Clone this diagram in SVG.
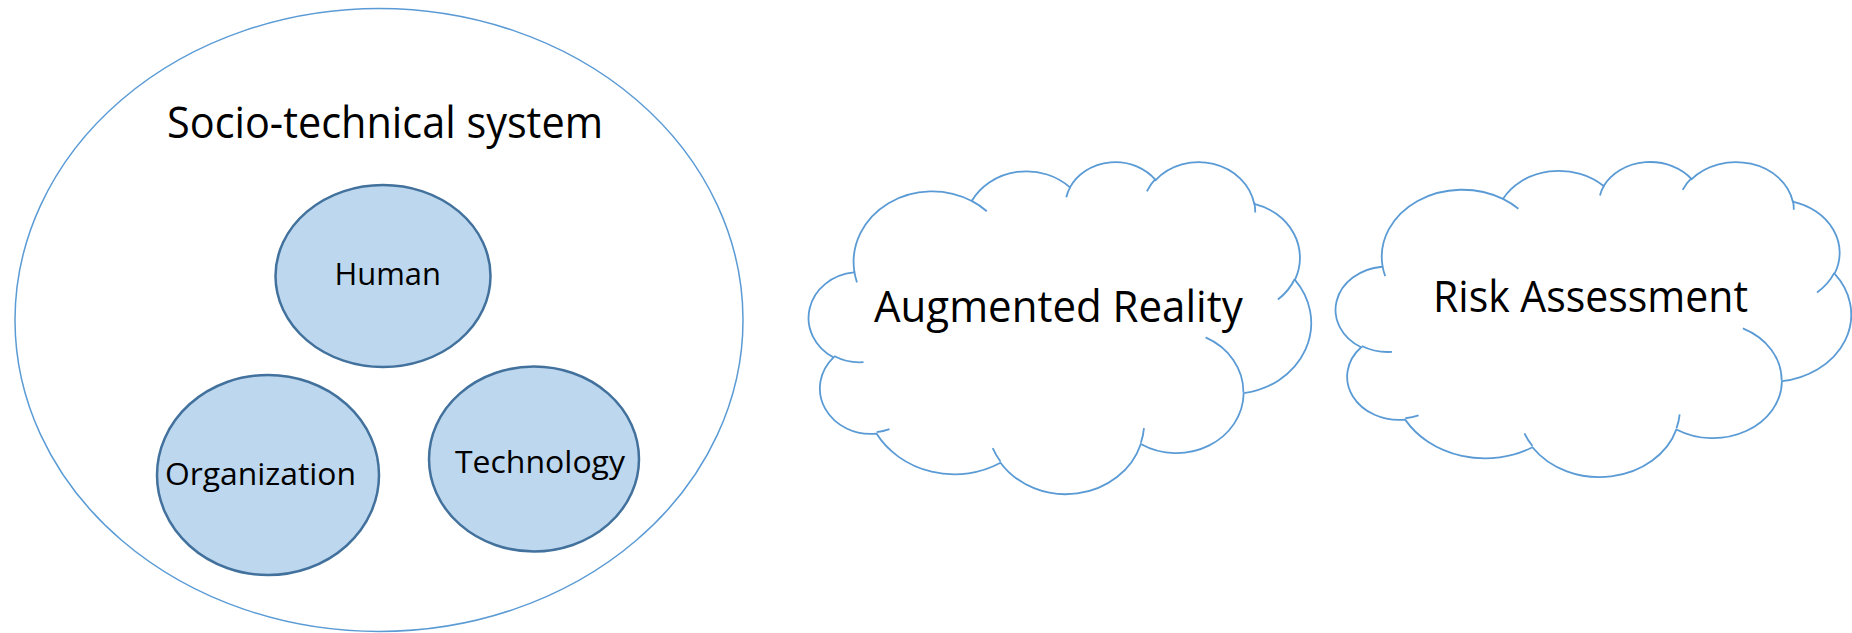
<svg xmlns="http://www.w3.org/2000/svg" xmlns:xlink="http://www.w3.org/1999/xlink" width="1852" height="633" viewBox="0 0 1852 633">
<style>
.big{fill:#ffffff;stroke:#5B9BD5;stroke-width:1.5}
.sub{fill:#BDD7EE;stroke:#41719C;stroke-width:2.5}
.cloud{fill:#ffffff;stroke:#5B9BD5;stroke-width:1.8;vector-effect:non-scaling-stroke}
.cloudin{fill:none;stroke:#5B9BD5;stroke-width:1.8;vector-effect:non-scaling-stroke}
text{font-family:"Open Sans","Noto Sans",sans-serif;fill:#000000}
.lg{font-size:43.5px}
.sm{font-size:31px}
</style>
<defs>
<path id="cloudOutline" class="cloud" d="M3900 14370 A6753 9190 0 0 1 14005 5202 A5333 7267 0 0 1 22455 3432 A4365 5945 0 0 1 29832 2481 A4857 6595 0 0 1 38317 5576 A5333 7273 0 0 1 41818 15460 A6775 9220 0 0 1 37404 30203 A5785 7867 0 0 1 28555 36813 A6752 9215 0 0 1 16480 39265 A7720 10543 0 0 1 5804 35469 A4360 5918 0 0 1 2111 25549 A4345 5945 0 0 1 3861 14505 Z"/>
<path id="cloudInner" class="cloudin" d="M4693 26177 A4345 5945 0 0 1 2160 25380 M6928 34899 A4360 5918 0 0 1 5820 35281 M16478 39090 A6752 9215 0 0 1 15810 37349 M28827 34751 A6752 9215 0 0 1 28560 36660 M34129 22954 A5785 7867 0 0 1 37381 30090 M41798 15354 A5333 7273 0 0 1 40350 18030 M38324 5426 A4857 6595 0 0 1 38400 6690 M29078 3952 A4857 6595 0 0 1 29819 2341 M22141 4720 A4365 5945 0 0 1 22500 3330 M14000 5192 A6753 9190 0 0 1 15300 6541 M4127 15789 A6753 9190 0 0 1 3900 14370"/>
</defs>

<g id="socio-technical-system">
<ellipse class="big" cx="379" cy="320" rx="364" ry="311.5"/>
<text class="lg" x="167" y="138" textLength="436" lengthAdjust="spacingAndGlyphs">Socio-technical system</text>
</g>

<g id="human">
<ellipse class="sub" cx="383" cy="276" rx="107.5" ry="91"/>
<text class="sm" x="334.5" y="285" textLength="106.5" lengthAdjust="spacingAndGlyphs">Human</text>
</g>

<g id="organization">
<ellipse class="sub" cx="268" cy="475" rx="111" ry="100"/>
<text class="sm" x="165" y="485" textLength="191" lengthAdjust="spacingAndGlyphs">Organization</text>
</g>

<g id="technology">
<ellipse class="sub" cx="534" cy="459" rx="105" ry="92.5"/>
<text class="sm" x="455" y="472.7" textLength="170" lengthAdjust="spacingAndGlyphs">Technology</text>
</g>

<g id="augmented-reality">
<g transform="translate(809,161) scale(0.0116204,0.0076852)">
<use xlink:href="#cloudOutline"/>
<use xlink:href="#cloudInner"/>
</g>
<text class="lg" x="874" y="321.5" textLength="368.7" lengthAdjust="spacingAndGlyphs">Augmented Reality</text>
</g>

<g id="risk-assessment">
<g transform="translate(1336,161) scale(0.0119213,0.0072917)">
<use xlink:href="#cloudOutline"/>
<use xlink:href="#cloudInner"/>
</g>
<text class="lg" x="1433" y="311.5" textLength="315" lengthAdjust="spacingAndGlyphs">Risk Assessment</text>
</g>

<g id="connectors"></g>
</svg>
